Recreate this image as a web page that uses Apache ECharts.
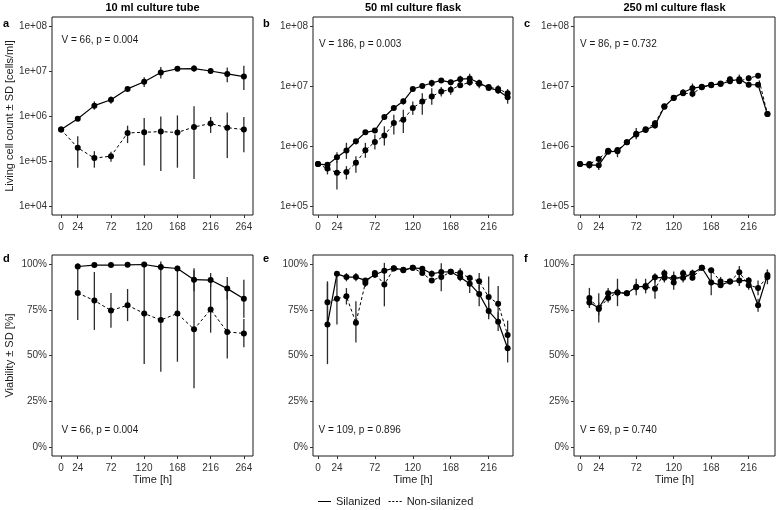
<!DOCTYPE html>
<html>
<head>
<meta charset="utf-8">
<script src="https://cdn.jsdelivr.net/npm/echarts@6/dist/echarts.min.js"></script>
<style>
html,body{margin:0;padding:0;background:#fff;}
#chart{width:776px;height:510px;}
</style>
</head>
<body>
<div id="chart"></div>
<script>
// ---------- time points (h) ----------
const hoursTube = [0, 24, 48, 72, 96, 120, 144, 168, 192, 216, 240, 264];
const hoursTubeVia = [24, 48, 72, 96, 120, 144, 168, 192, 216, 240, 264];
const hoursFlask = [0, 12, 24, 36, 48, 60, 72, 84, 96, 108, 120, 132, 144, 156, 168, 180, 192, 204, 216, 228, 240];
const hoursFlaskVia = [12, 24, 36, 48, 60, 72, 84, 96, 108, 120, 132, 144, 156, 168, 180, 192, 204, 216, 228, 240];

// ---------- tick labels ----------
const timeTicksTube = [0, 24, 72, 120, 168, 216, 264];
const timeTicksFlask = [0, 24, 72, 120, 168, 216];
const countTicksTube = [1e4, 1e5, 1e6, 1e7, 1e8];
const countTicksFlask = [1e5, 1e6, 1e7, 1e8];
const viaTicks = [0, 25, 50, 75, 100];

// ---------- a: 10 ml tube, living cell count [cells/ml] ----------
const tubeCountSil   = [5.0e5, 8.7e5, 1.7e6, 2.3e6, 4.0e6, 5.75e6, 9.3e6, 1.12e7, 1.13e7, 1.0e7, 8.6e6, 7.5e6];
const tubeCountSilLo = [5.0e5, 8.2e5, 1.38e6, 1.87e6, 3.7e6, 4.4e6, 6.8e6, 1.03e7, 9.6e6, 8.65e6, 5.6e6, 3.8e6];
const tubeCountSilHi = [5.0e5, 9.2e5, 2.11e6, 2.72e6, 4.4e6, 7.3e6, 1.22e7, 1.22e7, 1.35e7, 1.16e7, 1.2e7, 1.3e7];
const tubeCountNon   = [5.0e5, 1.96e5, 1.16e5, 1.28e5, 4.2e5, 4.35e5, 4.5e5, 4.3e5, 5.7e5, 6.8e5, 5.5e5, 5.0e5];
const tubeCountNonLo = [5.0e5, 7.1e4, 7.1e4, 9.6e4, 2.5e5, 7.9e4, 6.0e4, 7.1e4, 4.0e4, 4.2e5, 1.17e5, 1.57e5];
const tubeCountNonHi = [5.0e5, 3.55e5, 1.65e5, 1.6e5, 6.1e5, 9.0e5, 9.8e5, 1.03e6, 1.64e6, 9.5e5, 1.2e6, 9.5e5];

// ---------- b: 50 ml flask, living cell count ----------
const f50CountSil   = [5.0e5, 4.85e5, 6.5e5, 8.4e5, 1.2e6, 1.69e6, 1.81e6, 3.04e6, 4.3e6, 5.55e6, 8.9e6, 1.0e7, 1.12e7, 1.24e7, 1.15e7, 1.3e7, 1.33e7, 1.12e7, 9.3e6, 8.4e6, 6.5e6];
const f50CountSilLo = [5.0e5, 4.33e5, 5.25e5, 6.1e5, 1.06e6, 1.55e6, 1.65e6, 2.75e6, 3.93e6, 4.88e6, 8.1e6, 9.3e6, 9.6e6, 1.15e7, 1.05e7, 1.15e7, 1.12e7, 9.8e6, 8.4e6, 7.4e6, 5.07e6];
const f50CountSilHi = [5.0e5, 5.38e5, 7.88e5, 1.13e6, 1.31e6, 1.83e6, 2.0e6, 3.33e6, 4.7e6, 6.2e6, 9.6e6, 1.09e7, 1.27e7, 1.33e7, 1.27e7, 1.48e7, 1.6e7, 1.27e7, 1.03e7, 9.6e6, 8.1e6];
const f50CountNon   = [5.0e5, 4.2e5, 3.58e5, 3.7e5, 5.25e5, 8.5e5, 1.17e6, 1.49e6, 2.42e6, 2.75e6, 4.3e6, 5.5e6, 6.7e6, 8.1e6, 8.7e6, 1.03e7, 1.15e7, 1.09e7, 9.6e6, 8.9e6, 7.6e6];
const f50CountNonLo = [5.0e5, 3.36e5, 1.89e5, 2.77e5, 3.58e5, 6.35e5, 8.73e5, 1.02e6, 1.55e6, 1.65e6, 3.33e6, 3.33e6, 4.88e6, 6.7e6, 7.15e6, 9.6e6, 1.01e7, 9.2e6, 8.65e6, 7.6e6, 6.5e6];
const f50CountNonHi = [5.0e5, 4.73e5, 5.58e5, 4.61e5, 6.76e5, 1.13e6, 1.55e6, 2.13e6, 3.33e6, 4.03e6, 5.54e6, 7.6e6, 9.2e6, 9.6e6, 1.01e7, 1.24e7, 1.35e7, 1.27e7, 1.05e7, 1.03e7, 8.9e6];

// ---------- c: 250 ml flask, living cell count ----------
const f250CountSil   = [5.0e5, 4.8e5, 4.8e5, 8.0e5, 8.2e5, 1.15e6, 1.6e6, 1.85e6, 2.2e6, 4.5e6, 6.4e6, 7.8e6, 9.2e6, 9.7e6, 1.05e7, 1.08e7, 1.2e7, 1.3e7, 1.05e7, 1.05e7, 3.4e6];
const f250CountSilLo = [5.0e5, 4.2e5, 4.0e5, 7.5e5, 6.5e5, 1.08e6, 1.3e6, 1.7e6, 1.95e6, 4.2e6, 5.8e6, 6.8e6, 7.6e6, 8.8e6, 9.7e6, 1.0e7, 1.08e7, 1.15e7, 9.5e6, 9.5e6, 3.2e6];
const f250CountSilHi = [5.0e5, 5.5e5, 5.6e5, 8.6e5, 9.5e5, 1.22e6, 2.0e6, 2.1e6, 2.45e6, 4.8e6, 7.0e6, 8.8e6, 1.1e7, 1.06e7, 1.12e7, 1.16e7, 1.35e7, 1.55e7, 1.15e7, 1.15e7, 3.6e6];
const f250CountNon   = [5.0e5, 5.0e5, 6.1e5, 8.3e5, 8.6e5, 1.15e6, 1.55e6, 1.9e6, 2.4e6, 4.6e6, 6.3e6, 7.6e6, 7.4e6, 9.5e6, 1.03e7, 1.1e7, 1.3e7, 1.2e7, 1.35e7, 1.48e7, 3.4e6];
const f250CountNonLo = [5.0e5, 4.6e5, 5.7e5, 7.8e5, 7.5e5, 1.1e6, 1.4e6, 1.75e6, 2.1e6, 4.3e6, 5.9e6, 7.0e6, 6.5e6, 8.8e6, 9.6e6, 1.03e7, 1.15e7, 1.1e7, 1.2e7, 1.35e7, 3.2e6];
const f250CountNonHi = [5.0e5, 5.4e5, 6.5e5, 8.8e5, 9.2e5, 1.2e6, 1.7e6, 2.05e6, 2.7e6, 4.9e6, 6.7e6, 8.2e6, 8.4e6, 1.02e7, 1.1e7, 1.17e7, 1.45e7, 1.3e7, 1.5e7, 1.6e7, 3.6e6];

// ---------- d: 10 ml tube, viability [%] ----------
const tubeViaSil   = [98.7, 99.5, 99.5, 99.6, 99.8, 98.4, 97.6, 91.5, 91.3, 86.6, 81.0];
const tubeViaSilLo = [97.6, 99.0, 99.0, 99.2, 98.8, 96.5, 96.0, 85.1, 87.5, 80.6, 70.7];
const tubeViaSilHi = [100.2, 100.0, 100.0, 100.0, 100.2, 100.3, 99.2, 97.8, 95.1, 93.0, 91.5];
const tubeViaNon   = [84.2, 80.1, 74.6, 77.5, 73.0, 69.4, 73.0, 64.3, 75.2, 62.9, 62.1];
const tubeViaNonLo = [69.4, 64.0, 65.2, 68.8, 45.3, 41.1, 46.6, 32.1, 62.5, 48.4, 54.5];
const tubeViaNonHi = [100.5, 95.7, 84.2, 86.4, 100.2, 101.4, 99.0, 96.6, 89.7, 87.9, 70.0];

// ---------- e: 50 ml flask, viability ----------
const f50ViaSil   = [67.0, 94.7, 92.9, 92.9, 91.1, 94.2, 96.4, 97.8, 96.9, 98.0, 97.5, 94.7, 95.7, 95.8, 92.8, 89.3, 83.7, 74.3, 68.5, 54.0];
const f50ViaSilLo = [45.3, 93.7, 90.6, 90.6, 89.7, 92.4, 95.1, 97.0, 96.0, 97.5, 96.5, 93.0, 94.5, 95.0, 90.6, 84.2, 77.0, 69.8, 63.4, 46.2];
const f50ViaSilHi = [89.7, 95.5, 95.1, 95.1, 92.4, 96.2, 97.8, 98.6, 97.8, 98.5, 98.5, 96.5, 96.9, 96.5, 95.1, 92.4, 88.6, 78.8, 73.5, 61.6];
const f50ViaNon   = [79.2, 81.0, 82.4, 67.9, 89.7, 95.1, 88.8, 97.6, 96.6, 98.0, 95.1, 91.1, 92.9, 95.8, 95.1, 92.4, 90.6, 82.0, 78.3, 61.2];
const f50ViaNonLo = [68.0, 67.0, 77.9, 57.1, 87.5, 94.0, 76.9, 97.0, 96.0, 97.5, 94.0, 90.0, 85.1, 95.0, 92.4, 90.6, 86.0, 71.4, 68.5, 53.3];
const f50ViaNonHi = [90.6, 95.0, 86.9, 79.7, 91.8, 96.2, 100.7, 98.5, 97.5, 98.5, 96.5, 92.2, 100.5, 96.5, 97.8, 94.2, 95.1, 93.3, 88.0, 69.1];

// ---------- f: 250 ml flask, viability ----------
const f250ViaSil   = [79.0, 76.0, 84.0, 84.5, 84.0, 87.5, 88.0, 92.8, 92.5, 92.5, 92.5, 95.0, 98.0, 90.0, 88.5, 90.5, 91.0, 91.0, 77.5, 94.0];
const f250ViaSilLo = [76.0, 68.0, 81.0, 77.0, 83.0, 83.0, 84.0, 90.0, 90.0, 89.0, 90.0, 93.0, 97.5, 83.0, 87.0, 89.5, 88.0, 89.0, 74.0, 91.0];
const f250ViaSilHi = [82.0, 84.0, 87.0, 92.0, 85.0, 92.0, 92.0, 95.0, 95.0, 96.0, 95.0, 97.0, 98.5, 97.0, 90.0, 91.5, 94.0, 93.0, 81.0, 97.0];
const f250ViaNon   = [81.5, 75.5, 81.5, 84.5, 84.0, 87.5, 87.5, 86.5, 95.0, 90.0, 95.0, 92.5, 98.0, 96.7, 90.5, 90.5, 95.5, 88.5, 87.0, 93.0];
const f250ViaNonLo = [77.0, 72.0, 79.0, 82.0, 83.0, 85.0, 85.0, 81.0, 93.0, 86.0, 93.0, 91.0, 97.5, 95.5, 88.0, 89.5, 92.0, 86.0, 83.0, 89.0];
const f250ViaNonHi = [87.0, 79.0, 84.0, 87.0, 85.0, 90.0, 90.0, 92.0, 97.0, 94.0, 97.0, 94.0, 98.5, 98.0, 93.0, 91.5, 99.0, 91.0, 91.0, 97.0];

// ---------- texts ----------
const columnTitles = ['10 ml culture tube', '50 ml culture flask', '250 ml culture flask'];
const panelLetters = ['a', 'b', 'c', 'd', 'e', 'f'];
const statTexts = ['V = 66, p = 0.004', 'V = 186, p = 0.003', 'V = 86, p = 0.732',
                   'V = 66, p = 0.004', 'V = 109, p = 0.896', 'V = 69, p = 0.740'];
const legendNames = ['Silanized', 'Non-silanized'];

// ---------- layout ----------
const FONT = '"Liberation Sans", Arial, Helvetica, sans-serif';
const gridBoxes = [
  {left: 52, top: 17, width: 201, height: 198},
  {left: 313, top: 17, width: 200, height: 198},
  {left: 574, top: 17, width: 201, height: 198},
  {left: 52, top: 255, width: 201, height: 201},
  {left: 313, top: 255, width: 200, height: 201},
  {left: 574, top: 255, width: 201, height: 201}
];
const xRanges = [[-13.2, 277.2], [-6.3, 246.8], [-7.7, 249.7]];
const lg = v => Math.log10(v);
const ident = v => v;

const panels = [
  {x: hoursTube, s: tubeCountSil, sl: tubeCountSilLo, sh: tubeCountSilHi, n: tubeCountNon, nl: tubeCountNonLo, nh: tubeCountNonHi, log: true, yr: [3.8, 8.2], yt: countTicksTube, xt: timeTicksTube, col: 0},
  {x: hoursFlask, s: f50CountSil, sl: f50CountSilLo, sh: f50CountSilHi, n: f50CountNon, nl: f50CountNonLo, nh: f50CountNonHi, log: true, yr: [4.85, 8.15], yt: countTicksFlask, xt: timeTicksFlask, col: 1},
  {x: hoursFlask, s: f250CountSil, sl: f250CountSilLo, sh: f250CountSilHi, n: f250CountNon, nl: f250CountNonLo, nh: f250CountNonHi, log: true, yr: [4.85, 8.15], yt: countTicksFlask, xt: timeTicksFlask, col: 2},
  {x: hoursTubeVia, s: tubeViaSil, sl: tubeViaSilLo, sh: tubeViaSilHi, n: tubeViaNon, nl: tubeViaNonLo, nh: tubeViaNonHi, log: false, yr: [-5, 105], yt: viaTicks, xt: timeTicksTube, col: 0},
  {x: hoursFlaskVia, s: f50ViaSil, sl: f50ViaSilLo, sh: f50ViaSilHi, n: f50ViaNon, nl: f50ViaNonLo, nh: f50ViaNonHi, log: false, yr: [-5, 105], yt: viaTicks, xt: timeTicksFlask, col: 1},
  {x: hoursFlaskVia, s: f250ViaSil, sl: f250ViaSilLo, sh: f250ViaSilHi, n: f250ViaNon, nl: f250ViaNonLo, nh: f250ViaNonHi, log: false, yr: [-5, 105], yt: viaTicks, xt: timeTicksFlask, col: 2}
];

function renderErrorBar(params, api) {
  const x = api.value(0);
  const p1 = api.coord([x, api.value(1)]);
  const p2 = api.coord([x, api.value(2)]);
  return {type: 'line', shape: {x1: p1[0], y1: p1[1], x2: p2[0], y2: p2[1]},
          style: {stroke: '#2b2b2b', lineWidth: 1.3}};
}

const grid = [], xAxis = [], yAxis = [], series = [];
panels.forEach((p, i) => {
  const g = gridBoxes[i];
  grid.push(Object.assign({show: true, borderColor: '#1a1a1a', borderWidth: 1, backgroundColor: '#fff', containLabel: false}, g));
  const tf = p.log ? lg : ident;
  const xr = xRanges[p.col];
  xAxis.push({
    type: 'value', gridIndex: i, min: xr[0], max: xr[1], position: 'bottom',
    axisLine: {show: false, onZero: false}, splitLine: {show: false},
    axisTick: {show: true, length: 3, customValues: p.xt, lineStyle: {color: '#333', width: 1}},
    axisLabel: {show: true, customValues: p.xt, margin: 7, fontSize: 10, color: '#333', fontFamily: FONT},
    name: i >= 3 ? 'Time [h]' : '', nameLocation: 'middle', nameGap: 18,
    nameTextStyle: {fontSize: 11, color: '#1a1a1a', fontFamily: FONT}
  });
  const ytVals = p.log ? p.yt.map(lg) : p.yt;
  yAxis.push({
    type: 'value', gridIndex: i, min: p.yr[0], max: p.yr[1], position: 'left',
    axisLine: {show: false, onZero: false}, splitLine: {show: false},
    axisTick: {show: true, length: 3, customValues: ytVals, lineStyle: {color: '#333', width: 1}},
    axisLabel: {show: true, customValues: ytVals, margin: 5, fontSize: 10, color: '#333', fontFamily: FONT,
      formatter: p.log ? (v => '1e+0' + Math.round(v)) : (v => Math.round(v) + '%')},
    name: i === 0 ? 'Living cell count ± SD [cells/ml]' : (i === 3 ? 'Viability ± SD [%]' : ''),
    nameLocation: 'middle', nameGap: 37,
    nameTextStyle: {fontSize: 11, color: '#1a1a1a', fontFamily: FONT}
  });
  // error bars
  series.push({
    type: 'custom', xAxisIndex: i, yAxisIndex: i, z: 1, silent: true,
    renderItem: renderErrorBar, encode: {x: 0, y: [1, 2]},
    data: p.x.map((h, j) => [h, tf(p.nl[j]), tf(p.nh[j])])
  });
  series.push({
    type: 'custom', xAxisIndex: i, yAxisIndex: i, z: 1, silent: true,
    renderItem: renderErrorBar, encode: {x: 0, y: [1, 2]},
    data: p.x.map((h, j) => [h, tf(p.sl[j]), tf(p.sh[j])])
  });
  series.push({
    type: 'line', name: legendNames[1], xAxisIndex: i, yAxisIndex: i, z: 3,
    data: p.x.map((h, j) => [h, tf(p.n[j])]),
    symbol: 'circle', symbolSize: 6, showSymbol: true,
    itemStyle: {color: '#000'},
    lineStyle: {color: '#000', width: 1, type: [3, 2.5]}
  });
  series.push({
    type: 'line', name: legendNames[0], xAxisIndex: i, yAxisIndex: i, z: 4,
    data: p.x.map((h, j) => [h, tf(p.s[j])]),
    symbol: 'circle', symbolSize: 6, showSymbol: true,
    itemStyle: {color: '#000'},
    lineStyle: {color: '#000', width: 1.2, type: 'solid'}
  });
});

// text annotations
const graphic = [];
const titleCenters = [152.5, 413, 674.5];
columnTitles.forEach((t, k) => graphic.push({type: 'text', x: titleCenters[k], y: 7.5,
  style: {text: t, font: 'bold 11px ' + FONT, fill: '#000', align: 'center', verticalAlign: 'middle'}}));
const letterPos = [[3, 24], [263, 24], [524, 24], [3, 259], [263, 259], [524, 259]];
panelLetters.forEach((t, k) => graphic.push({type: 'text', x: letterPos[k][0], y: letterPos[k][1],
  style: {text: t, font: 'bold 11px ' + FONT, fill: '#000', align: 'left', verticalAlign: 'middle'}}));
const statPos = [[61.5, 40], [319, 44.3], [580, 44.3], [61.5, 430.5], [318.5, 430.5], [580, 430.5]];
statTexts.forEach((t, k) => graphic.push({type: 'text', x: statPos[k][0], y: statPos[k][1],
  style: {text: t, font: '10px ' + FONT, fill: '#1a1a1a', align: 'left', verticalAlign: 'middle'}}));

const chart = echarts.init(document.getElementById('chart'), null, {renderer: 'canvas'});
chart.setOption({
  animation: false,
  backgroundColor: '#fff',
  grid, xAxis, yAxis, series, graphic,
  legend: {
    top: 491, left: 313, itemWidth: 13, itemHeight: 1.2, itemGap: 8,
    textStyle: {fontSize: 11, color: '#1a1a1a', fontFamily: FONT},
    itemStyle: {borderWidth: 0},
    selectedMode: false,
    data: [
      {name: 'Silanized', icon: 'path://M0 0H13V1H0Z'},
      {name: 'Non-silanized', icon: 'path://M0 0H2V1H0Z M3.6 0H5.6V1H3.6Z M7.2 0H9.2V1H7.2Z M10.8 0H12.8V1H10.8Z'}
    ]
  }
});
</script>
</body>
</html>
